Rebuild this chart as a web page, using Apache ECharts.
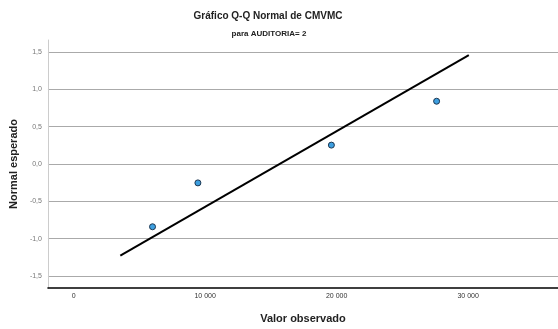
<!DOCTYPE html>
<html>
<head>
<meta charset="utf-8">
<script src="https://cdn.jsdelivr.net/npm/echarts@6/dist/echarts.min.js"></script>
<style>
  html, body { margin: 0; padding: 0; background: #fff; }
  #chart { width: 558px; height: 329px; }
</style>
</head>
<body>
<div id="chart"></div>
<script>
  // valores observados y normal esperado
  const obsValues = [6000, 9450, 19600, 27600]
  const expNormal = [-0.8416, -0.2533, 0.2533, 0.8416]
  // linea de referencia
  const refX = [3550, 30050]
  const refY = [-1.23, 1.46]
  const xTicks = [0, 10000, 20000, 30000]
  const yTicks = [-1.5, -1, -0.5, 0, 0.5, 1, 1.5]

  const font = 'Arial, "Liberation Sans", sans-serif'
  const chart = echarts.init(document.getElementById('chart'))

  const option = {
    animation: false,
    title: [
      {
        text: 'Gráfico Q-Q Normal de CMVMC',
        left: 263, top: 6, textAlign: 'center',
        textStyle: { fontFamily: font, fontSize: 10, fontWeight: 'bold', color: '#222' }
      },
      {
        text: 'para AUDITORIA= 2',
        left: 264, top: 25, textAlign: 'center',
        textStyle: { fontFamily: font, fontSize: 8, fontWeight: 'bold', color: '#222' }
      }
    ],
    grid: { left: 45, right: 0, top: 40, bottom: 38 },
    xAxis: {
      type: 'value',
      min: -1950,
      max: 36830,
      name: 'Valor observado',
      nameLocation: 'middle',
      nameGap: 25,
      nameTextStyle: { fontFamily: font, fontSize: 11, fontWeight: 'bold', color: '#222' },
      axisLine: { show: true, onZero: false, lineStyle: { color: '#000', width: 1.5 } },
      axisTick: { show: false, customValues: xTicks },
      splitLine: { show: false },
      axisLabel: {
        customValues: xTicks,
        fontFamily: font, fontSize: 7, color: '#333', margin: 5,
        formatter: (v) => String(v).replace(/\B(?=(\d{3})+(?!\d))/g, ' ')
      }
    },
    yAxis: {
      type: 'value',
      min: -1.663,
      max: 1.663,
      name: 'Normal esperado',
      nameLocation: 'middle',
      nameGap: 28,
      nameTextStyle: { fontFamily: font, fontSize: 11, fontWeight: 'bold', color: '#222' },
      axisLine: { show: true, onZero: false, lineStyle: { color: '#ccc', width: 1 } },
      axisTick: { show: false, customValues: yTicks },
      splitLine: { show: true, customValues: yTicks, lineStyle: { color: '#aaa', width: 1 } },
      axisLabel: {
        customValues: yTicks,
        fontFamily: font, fontSize: 7, color: '#777', margin: 6,
        formatter: (v) => v.toFixed(1).replace('.', ',')
      }
    },
    series: [
      {
        type: 'line',
        data: refX.map((x, i) => [x, refY[i]]),
        symbol: 'none',
        lineStyle: { color: '#000', width: 2 },
        z: 2
      },
      {
        type: 'scatter',
        data: obsValues.map((x, i) => [x, expNormal[i]]),
        symbol: 'circle',
        symbolSize: 6,
        itemStyle: { color: '#3d9fe0', borderColor: '#1c3650', borderWidth: 1, opacity: 1 },
        z: 3
      }
    ]
  }
  chart.setOption(option)
</script>
</body>
</html>
